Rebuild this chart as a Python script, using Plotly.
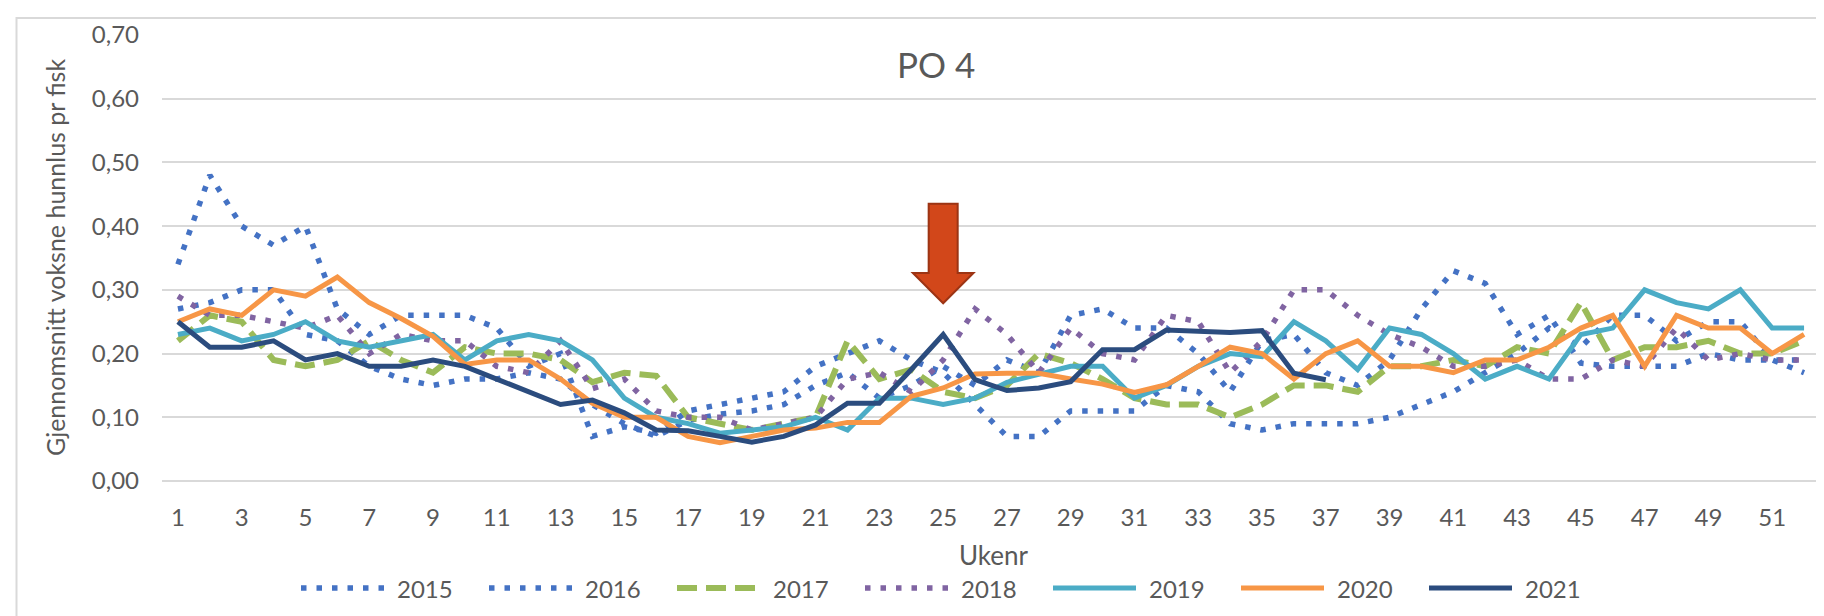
import plotly.graph_objects as go

# ---------------- data ----------------
weeks = list(range(1, 53))
years = ["2015", "2016", "2017", "2018", "2019", "2020", "2021"]

y2015 = [0.34, 0.48, 0.40, 0.37, 0.40, 0.27, 0.23, 0.26, 0.26, 0.26,
         0.24, 0.18, 0.20, 0.07, 0.085, 0.075, 0.11, 0.12, 0.13, 0.14,
         0.18, 0.20, 0.22, 0.19, 0.17, 0.12, 0.07, 0.07, 0.11, 0.11,
         0.11, 0.15, 0.14, 0.09, 0.08, 0.09, 0.09, 0.09, 0.10, 0.12,
         0.14, 0.17, 0.20, 0.24, 0.21, 0.26, 0.26, 0.22, 0.25, 0.25,
         0.19, 0.17]
y2016 = [0.27, 0.28, 0.30, 0.30, 0.23, 0.22, 0.18, 0.16, 0.15, 0.16,
         0.16, 0.17, 0.16, 0.12, 0.09, 0.07, 0.095, 0.105, 0.11, 0.12,
         0.15, 0.17, 0.13, 0.15, 0.18, 0.15, 0.19, 0.17, 0.26, 0.27,
         0.24, 0.24, 0.20, 0.14, 0.22, 0.23, 0.17, 0.15, 0.19, 0.27,
         0.33, 0.31, 0.23, 0.26, 0.185, 0.18, 0.18, 0.18, 0.20, 0.19,
         0.19, 0.19]
y2017 = [0.22, 0.26, 0.25, 0.19, 0.18, 0.19, 0.22, 0.19, 0.17, 0.21,
         0.20, 0.20, 0.19, 0.155, 0.17, 0.165, 0.10, 0.09, 0.08, 0.09,
         0.10, 0.22, 0.16, 0.175, 0.14, 0.13, 0.15, 0.20, 0.185, 0.16,
         0.13, 0.12, 0.12, 0.10, 0.12, 0.15, 0.15, 0.14, 0.18, 0.18,
         0.19, 0.18, 0.21, 0.20, 0.28, 0.19, 0.21, 0.21, 0.22, 0.20,
         0.20, 0.22]
y2018 = [0.29, 0.26, 0.26, 0.25, 0.24, 0.26, 0.20, 0.23, 0.22, 0.22,
         0.18, 0.17, 0.22, 0.145, 0.16, 0.11, 0.10, 0.10, 0.08, 0.09,
         0.10, 0.16, 0.17, 0.14, 0.19, 0.27, 0.23, 0.17, 0.24, 0.20,
         0.19, 0.26, 0.25, 0.17, 0.22, 0.30, 0.30, 0.26, 0.23, 0.21,
         0.18, 0.18, 0.19, 0.16, 0.16, 0.19, 0.18, 0.24, 0.19, 0.20,
         0.19, 0.19]
y2019 = [0.23, 0.24, 0.22, 0.23, 0.25, 0.22, 0.21, 0.22, 0.23, 0.19,
         0.22, 0.23, 0.22, 0.19, 0.13, 0.10, 0.09, 0.075, 0.08, 0.085,
         0.10, 0.08, 0.13, 0.13, 0.12, 0.13, 0.155, 0.167, 0.18, 0.18,
         0.13, 0.15, 0.18, 0.20, 0.195, 0.25, 0.22, 0.175, 0.24, 0.23,
         0.20, 0.16, 0.18, 0.16, 0.23, 0.24, 0.30, 0.28, 0.27, 0.30,
         0.24, 0.24]
y2020 = [0.25, 0.27, 0.26, 0.30, 0.29, 0.32, 0.28, 0.255, 0.227, 0.183,
         0.19, 0.19, 0.16, 0.122, 0.10, 0.10, 0.07, 0.06, 0.07, 0.08,
         0.083, 0.092, 0.092, 0.133, 0.146, 0.168, 0.169, 0.169, 0.16, 0.152,
         0.139, 0.151, 0.18, 0.21, 0.20, 0.16, 0.20, 0.22, 0.18, 0.18,
         0.17, 0.19, 0.19, 0.21, 0.24, 0.26, 0.18, 0.26, 0.24, 0.24,
         0.20, 0.23]
y2021 = [0.25, 0.21, 0.21, 0.22, 0.19, 0.20, 0.18, 0.18, 0.19, 0.18,
         0.16, 0.14, 0.12, 0.127, 0.107, 0.08, 0.079, 0.07, 0.061, 0.07,
         0.088, 0.122, 0.122, 0.175, 0.23, 0.159, 0.142, 0.146, 0.156, 0.206,
         0.206, 0.237, 0.235, 0.233, 0.236, 0.169, 0.159]

series_values = [y2015, y2016, y2017, y2018, y2019, y2020, y2021]
x_tickvals = list(range(1, 53, 2))
y_tickvals = [0.0, 0.1, 0.2, 0.3, 0.4, 0.5, 0.6, 0.7]

title_text = "PO 4"
x_title = "Ukenr"
y_title = "Gjennomsnitt voksne hunnlus pr fisk"
arrow_week = 25

# ---------------- styles ----------------
colors = ["#4472C4", "#4472C4", "#9BBB59", "#8064A2", "#4BACC6", "#F79646", "#2B4C7E"]
dashes = ["5.5px,10px", "5.5px,10px", "20px,9px", "5.5px,10px", "solid", "solid", "solid"]
widths = [5.5, 5.5, 6, 5.5, 5, 5, 5]

W, H = 1824, 616
L, R, T, B = 154, 12, 27, 143
PW, PH = W - L - R, H - T - B
FONT = "Lato"
TXT = "#595959"


def px(xp):
    return (xp - L) / PW


def py(yp):
    return (H - B - yp) / PH


fig = go.Figure()
for name, vals, c, d, w in zip(years, series_values, colors, dashes, widths):
    fig.add_trace(go.Scatter(
        x=weeks[:len(vals)], y=vals, mode="lines", name=name,
        line=dict(color=c, width=w, dash=d), showlegend=False,
    ))

shapes = []
annotations = []

# chart frame (Excel chart area border)
shapes.append(dict(type="rect", xref="paper", yref="paper",
                   x0=px(8.5), x1=px(1840), y0=py(10), y1=py(640),
                   line=dict(color="#D9D9D9", width=2), fillcolor="rgba(0,0,0,0)",
                   layer="below"))

# block arrow pointing at week 25
aw = arrow_week
sh, hh = 0.455, 0.95
ytop, ybase, ytip = 0.435, 0.3265, 0.279
path = (f"M {aw - sh},{ytop} L {aw + sh},{ytop} L {aw + sh},{ybase} "
        f"L {aw + hh},{ybase} L {aw},{ytip} L {aw - hh},{ybase} "
        f"L {aw - sh},{ybase} Z")
shapes.append(dict(type="path", xref="x", yref="y", path=path,
                   fillcolor="#D2471A", line=dict(color="#9C3414", width=2),
                   layer="above"))

# legend (drawn manually to match long Excel legend keys)
leg_y = 580
for i, (name, c, d, w) in enumerate(zip(years, colors, dashes, widths)):
    x0 = 293 + 188 * i
    shapes.append(dict(type="line", xref="paper", yref="paper",
                       x0=px(x0), x1=px(x0 + 83), y0=py(leg_y), y1=py(leg_y),
                       line=dict(color=c, width=w, dash=d)))
    annotations.append(dict(text=name, xref="paper", yref="paper",
                            x=px(x0 + 94), y=py(leg_y), xanchor="left",
                            yanchor="middle", showarrow=False,
                            font=dict(family=FONT, size=24, color=TXT)))

# axis titles
annotations.append(dict(text=x_title, xref="paper", yref="paper",
                        x=px(986), y=py(547), xanchor="center", yanchor="middle",
                        showarrow=False, font=dict(family=FONT, size=26, color=TXT)))
annotations.append(dict(text=y_title, xref="paper", yref="paper",
                        x=px(47), y=py(250), xanchor="center", yanchor="middle",
                        textangle=-90, showarrow=False,
                        font=dict(family=FONT, size=25, color=TXT)))
# chart title
annotations.append(dict(text=title_text, xref="paper", yref="paper",
                        x=px(928), y=py(56), xanchor="center", yanchor="middle",
                        showarrow=False, font=dict(family=FONT, size=35, color=TXT)))

fig.update_layout(
    width=W, height=H,
    margin=dict(l=L, r=R, t=T, b=B, pad=0),
    paper_bgcolor="white", plot_bgcolor="white",
    separators=", ",
    font=dict(family=FONT, size=24, color=TXT),
    shapes=shapes, annotations=annotations,
    showlegend=False,
)
fig.update_xaxes(range=[0.5, 52.5], tickmode="array", tickvals=x_tickvals,
                 showgrid=False, zeroline=False, showline=False, ticks="",
                 ticklabelstandoff=20,
                 tickfont=dict(family=FONT, size=24, color=TXT))
fig.update_yaxes(range=[0, 0.7], tickmode="array", tickvals=y_tickvals,
                 tickformat=".2f", showgrid=True, gridcolor="#D9D9D9", gridwidth=2,
                 zeroline=True, zerolinecolor="#D9D9D9", zerolinewidth=2,
                 showline=False, ticks="", ticklabelstandoff=22,
                 tickfont=dict(family=FONT, size=24, color=TXT))

fig.write_html("out.html")
